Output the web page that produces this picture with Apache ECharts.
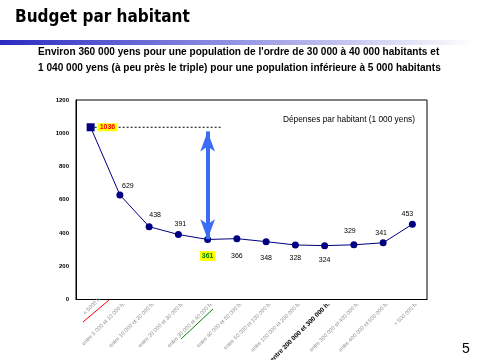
<!DOCTYPE html>
<html><head><meta charset="utf-8">
<script src="https://cdn.jsdelivr.net/npm/echarts@6/dist/echarts.min.js"></script>
<style>html,body{margin:0;padding:0;background:#fff}#c{width:481px;height:360px}</style>
</head><body><div id="c"></div>
<script>
var categories = ['< 5000 h.', 'entre 5 000 et 10 000 h.', 'entre 10 000 et 20 000 h.', 'entre 20 000 et 30 000 h.',
  'entre 30 000 et 40 000 h.', 'entre 40 000 et 50 000 h.', 'entre 50 000 et 100 000 h.', 'entre 100 000 et 200 000 h.',
  'entre 200 000 et 300 000 h.', 'entre 300 000 et 400 000 h.', 'entre 400 000 et 500 000 h.', '> 500 000 h.'];
var depenses = [1036, 629, 438, 391, 361, 366, 348, 328, 324, 329, 341, 453];
var yTicks = [0, 200, 400, 600, 800, 1000, 1200];
var refMax = 1036, refMin = 361;
var seriesName = 'Dépenses par habitant (1 000 yens)';
var titleText = 'Budget par habitant';
var subLines = ["Environ 360 000 yens pour une population de l'ordre de 30 000 à 40 000 habitants et",
  "1 040 000 yens (à peu près le triple) pour une population inférieure à 5 000 habitants"];

var labelCfg = [
  {position:'right', distance:3, color:'#ff0000', backgroundColor:'#ffff00', fontWeight:'bold', padding:[1,2,0,2]},
  {position:'top', offset:[8,3]},
  {position:'top', offset:[6,0]},
  {position:'top', offset:[2,2]},
  {position:'bottom', distance:8, color:'#008000', backgroundColor:'#ffff00', fontWeight:'bold', padding:[2,2,1,2]},
  {position:'bottom', distance:10},
  {position:'bottom', distance:9},
  {position:'bottom', distance:6},
  {position:'bottom', distance:7},
  {position:'top', offset:[-4,-2]},
  {position:'top', offset:[-2,2]},
  {position:'top', offset:[-5,2]}
];
var seriesData = depenses.map(function(v,i){
  return {value:v, symbol: i===0?'rect':'circle', symbolSize: i===0?8:7, label:labelCfg[i]};
});
var xData = categories.map(function(c,i){
  if (i===8) return {value:c, textStyle:{fontWeight:'bold', color:'#000', fontSize:6.5}};
  if (i===0) return {value:c, textStyle:{padding:[12,-14,0,0]}};
  return c;
});

var chart = echarts.init(document.getElementById('c'), null, {renderer:'canvas'});
chart.setOption({
  animation:false,
  backgroundColor:'#fff',
  title:[
    {text:titleText, left:10, top:4, textStyle:{fontFamily:'DejaVu Sans Condensed', fontWeight:'bold', fontSize:17, color:'#000'}},
    {text:subLines[0], left:33, top:42, textStyle:{fontFamily:'Liberation Sans', fontWeight:'bold', fontSize:10.1, color:'#000'}},
    {text:subLines[1], left:33, top:58, textStyle:{fontFamily:'Liberation Sans', fontWeight:'bold', fontSize:10.1, color:'#000'}},
    {text:'5', left:457, top:337, textStyle:{fontFamily:'Liberation Sans', fontWeight:'normal', fontSize:14, color:'#000'}},
    {text:seriesName, left:278, top:111, textStyle:{fontFamily:'Liberation Sans', fontWeight:'normal', fontSize:8.3, color:'#000'}}
  ],
  graphic:[
    {type:'rect', shape:{x:0, y:40, width:475, height:5}, silent:true,
     style:{fill:new echarts.graphic.LinearGradient(0,0,1,0,[{offset:0,color:'#2a2ac0'},{offset:0.45,color:'#8a8ae0'},{offset:1,color:'#ffffff'}])}},
    {type:'line', shape:{x1:83, y1:322, x2:109, y2:300}, style:{stroke:'#ff0000', lineWidth:1}, silent:true},
    {type:'line', shape:{x1:181, y1:339, x2:213, y2:309}, style:{stroke:'#008000', lineWidth:1}, silent:true}
  ],
  grid:{left:76, top:100, right:54, bottom:60.5, show:true, borderColor:'#000', borderWidth:1,
    containLabel:false, outerBoundsMode:'none'},
  xAxis:[
    {type:'category', data:xData, boundaryGap:true,
     axisLine:{lineStyle:{color:'#000', width:1}},
     axisTick:{inside:true, length:3, lineStyle:{color:'#000'}},
     axisLabel:{rotate:45, interval:0, margin:8, fontSize:5.5, color:'#8a8a8a', fontFamily:'Liberation Sans', padding:[0,-6,0,0]},
     splitLine:{show:false}},
    {type:'value', min:0, max:12, show:false}
  ],
  yAxis:{type:'value', min:yTicks[0], max:yTicks[yTicks.length-1], interval:200,
    axisLine:{show:true, lineStyle:{color:'#000'}}, axisTick:{show:false}, splitLine:{show:false},
    axisLabel:{fontSize:6, color:'#000', fontWeight:'bold', fontFamily:'Liberation Sans', margin:7,
      formatter:function(v){return String(v);}}},
  series:[
    {name:seriesName, type:'line', data:seriesData, xAxisIndex:0,
     lineStyle:{color:'#000080', width:1}, itemStyle:{color:'#000080'},
     label:{show:true, fontSize:7, color:'#000', fontFamily:'Liberation Sans'}, z:3},
    {type:'line', xAxisIndex:1, data:[[0.5,refMax],[4.95,refMax]], symbol:'none', silent:true,
     lineStyle:{color:'#000', width:1, type:[2,2]}, z:2,
     markLine:{silent:true, symbol:['arrow','arrow'], symbolSize:[11,20], label:{show:false},
       lineStyle:{color:'#3b6cf5', width:4, type:'solid'},
       data:[[{coord:[4.5, refMax-25]},{coord:[4.5, refMin+2]}]]}}
  ]
});
</script></body></html>
